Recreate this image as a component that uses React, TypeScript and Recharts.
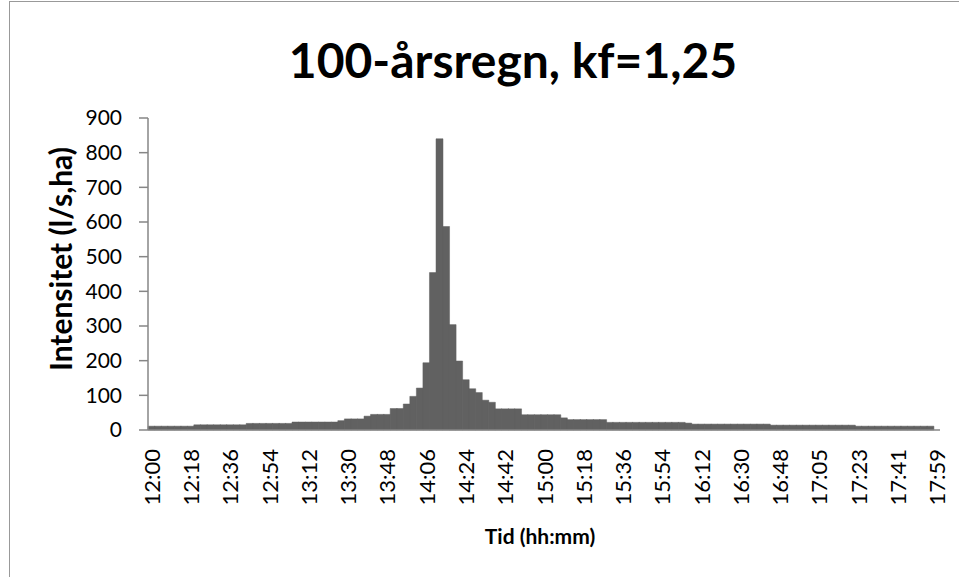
import React from 'react';
import { BarChart, Bar, XAxis, YAxis } from 'recharts';

// time labels, 121 steps (the Excel times drift one minute after 16:48)
const times = [
  '12:00', '12:03', '12:06', '12:09', '12:12', '12:15', '12:18', '12:21', '12:24', '12:27',
  '12:30', '12:33', '12:36', '12:39', '12:42', '12:45', '12:48', '12:51', '12:54', '12:57',
  '13:00', '13:03', '13:06', '13:09', '13:12', '13:15', '13:18', '13:21', '13:24', '13:27',
  '13:30', '13:33', '13:36', '13:39', '13:42', '13:45', '13:48', '13:51', '13:54', '13:57',
  '14:00', '14:03', '14:06', '14:09', '14:12', '14:15', '14:18', '14:21', '14:24', '14:27',
  '14:30', '14:33', '14:36', '14:39', '14:42', '14:45', '14:48', '14:51', '14:54', '14:57',
  '15:00', '15:03', '15:06', '15:09', '15:12', '15:15', '15:18', '15:21', '15:24', '15:27',
  '15:30', '15:33', '15:36', '15:39', '15:42', '15:45', '15:48', '15:51', '15:54', '15:57',
  '16:00', '16:03', '16:06', '16:09', '16:12', '16:15', '16:18', '16:21', '16:24', '16:27',
  '16:30', '16:33', '16:36', '16:39', '16:42', '16:45', '16:48', '16:50', '16:53', '16:56',
  '16:59', '17:02', '17:05', '17:08', '17:11', '17:14', '17:17', '17:20', '17:23', '17:26',
  '17:29', '17:32', '17:35', '17:38', '17:41', '17:44', '17:47', '17:50', '17:53', '17:56',
  '17:59',
];

// intensitet i l/s,ha
const intensity = [
  11, 11, 11, 11, 11, 11, 11, 15, 15, 15,
  15, 15, 15, 15, 15, 19, 19, 19, 19, 19,
  19, 19, 23, 23, 23, 23, 23, 23, 23, 27,
  32, 32, 32, 40, 45, 45, 45, 62, 62, 75,
  97, 121, 194, 454, 840, 587, 304, 199, 145, 119,
  108, 86, 80, 61, 61, 61, 61, 44, 44, 44,
  44, 44, 44, 35, 30, 30, 30, 30, 30, 30,
  22, 22, 22, 22, 22, 22, 22, 22, 22, 22,
  22, 22, 20, 17, 17, 17, 17, 17, 17, 17,
  17, 17, 17, 17, 17, 14, 14, 14, 14, 14,
  14, 14, 14, 14, 14, 14, 14, 14, 11, 11,
  11, 11, 11, 11, 11, 11, 11, 11, 11, 11,
  0,
];

const yTicks = [0, 100, 200, 300, 400, 500, 600, 700, 800, 900];

const data = times.map((t, i) => ({ t, v: intensity[i] }));

const FONT = 'Lato, "Noto Sans", sans-serif';
const AXIS = '#868686';

const TimeTick = ({ x, y, payload }: any) => (
  <text
    transform={`translate(${x},${y + 17}) rotate(-90)`}
    textAnchor="end"
    dominantBaseline="central"
    fontSize={22}
    fontFamily={FONT}
    fill="#000"
  >
    {payload.value}
  </text>
);

const App: React.FC = () => {
  return (
    <div style={{ position: 'absolute', left: 0, top: 0, width: 959, height: 577, background: '#fff' }}>
      <div
        style={{
          position: 'absolute',
          left: 9,
          top: 1,
          width: 950,
          height: 576,
          borderLeft: '1px solid #999',
          borderTop: '1px solid #999',
        }}
      />
      <BarChart
        width={959}
        height={577}
        data={data}
        margin={{ top: 118, right: 19, bottom: 6, left: 0 }}
        barCategoryGap={0}
        barGap={0}
        style={{ position: 'absolute', left: 0, top: 0 }}
      >
        <XAxis
          dataKey="t"
          interval={5}
          height={141}
          tickLine={false}
          tickSize={0}
          tick={<TimeTick />}
          axisLine={{ stroke: AXIS, strokeWidth: 1.5 }}
        />
        <YAxis
          domain={[0, 900]}
          ticks={yTicks}
          width={148}
          tickSize={9}
          tickMargin={17}
          tickLine={{ stroke: AXIS, strokeWidth: 1.5 }}
          axisLine={{ stroke: AXIS, strokeWidth: 1.5 }}
          tick={{ fontSize: 21, fontFamily: FONT, fill: '#000' }}
          interval={0}
        />
        <Bar dataKey="v" fill="#616161" stroke="#616161" strokeWidth={0.5} isAnimationActive={false} />
      </BarChart>
      <svg width={959} height={577} style={{ position: 'absolute', left: 0, top: 0, pointerEvents: 'none' }}>
        <text x={513} y={78} textAnchor="middle" fontSize={48} fontWeight={700} fontFamily={FONT} fill="#000">
          100-årsregn, kf=1,25
        </text>
        <text
          transform="translate(72,259) rotate(-90)"
          textAnchor="middle"
          fontSize={30}
          fontWeight={700}
          fontFamily={FONT}
          fill="#000"
        >
          Intensitet (l/s,ha)
        </text>
        <text x={540} y={544} textAnchor="middle" fontSize={21} fontWeight={700} fontFamily={FONT} fill="#000">
          Tid (hh:mm)
        </text>
      </svg>
    </div>
  );
};

export default App;
